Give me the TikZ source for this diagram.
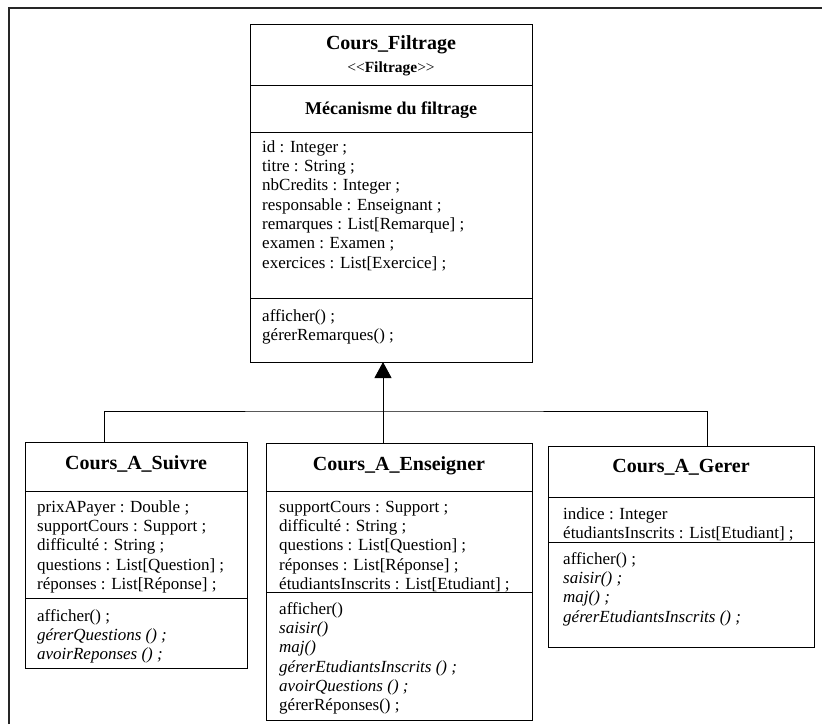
\documentclass[tikz,border=0pt]{standalone}
\usepackage{fontspec}
\setmainfont{Liberation Serif}
\usetikzlibrary{arrows.meta}

\begin{document}
\begin{tikzpicture}[x=1pt, y=-1pt]
	\tikzstyle{classbox} = [
		rectangle, draw=black, line width=0.9pt, outer sep=0pt, inner sep=0pt, below right
	]
	\tikzstyle{classname} = [
		anchor=base, inner sep=0pt, font=\fontsize{20}{24}\selectfont\bfseries
	]
	\tikzstyle{members} = [
		anchor=north west, inner sep=0pt, align=left, font=\fontsize{17}{19.3}\selectfont
	]
	\tikzstyle{sep} = [
		line width=0.9pt
	]
	\tikzstyle{inherit} = [
		line width=0.9pt, -{Triangle[length=16pt, width=17pt]}
	]

	\useasboundingbox (0,0) rectangle (822,724);
	% Rahmen
	\draw[line width=1.6pt, black!85] (9,724) -- (9,8) -- (822,8);

	% Cours_Filtrage
	\node (Filtrage) [classbox, minimum width=282pt, minimum height=338pt] at (250,24) {}
		% Titel
		node (Filtrage_name) [classname] at (391,49) {Cours\_Filtrage}
		node (Filtrage_stereo) [anchor=base, inner sep=0pt, font=\fontsize{15.5}{18}\selectfont] at (391,72) {<\kern0pt<\textbf{Filtrage}>\kern0pt>}
		node (Filtrage_mech) [classname, font=\fontsize{18}{22}\selectfont\bfseries] at (391,114) {Mécanisme du filtrage}
		% Trennlinien
		coordinate [yshift=-61pt]  (Filtrage_sep0) at (Filtrage.north west) % oben
		coordinate [yshift=-108pt] (Filtrage_sep1) at (Filtrage.north west) % mitte
		coordinate [yshift=-274pt] (Filtrage_sep2) at (Filtrage.north west) % unten
	;
	\node (Filtrage_attr) [members] at (262,138.5) {\strut id : Integer ;\\ titre : String ;\\ nbCredits : Integer ;\\ responsable : Enseignant ;\\ remarques : List[Remarque] ;\\ examen : Examen ;\\ exercices : List[Exercice] ;};
	\node (Filtrage_ops) [members] at (262,307.5) {\strut afficher() ;\\ gérerRemarques() ;};
	\draw[sep] (Filtrage_sep0) -- (Filtrage_sep0 -| Filtrage.east);
	\draw[sep] (Filtrage_sep1) -- (Filtrage_sep1 -| Filtrage.east);
	\draw[sep] (Filtrage_sep2) -- (Filtrage_sep2 -| Filtrage.east);

	% Cours_A_Suivre
	\node (Suivre) [classbox, minimum width=222pt, minimum height=226pt] at (25,442) {}
		node (Suivre_name) [classname] at (136,469) {Cours\_A\_Suivre}
		coordinate [yshift=-49pt]  (Suivre_sep0) at (Suivre.north west)
		coordinate [yshift=-156pt] (Suivre_sep1) at (Suivre.north west)
		coordinate [xshift=79pt]   (Suivre_top)  at (Suivre.north west) % Anschluss
	;
	\node (Suivre_attr) [members] at (37,498.5) {\strut prixAPayer : Double ;\\ supportCours : Support ;\\ difficulté : String ;\\ questions : List[Question] ;\\ réponses : List[Réponse] ;};
	\node (Suivre_ops) [members] at (37,607.5) {\strut afficher() ;\\ \textit{gérerQuestions () ;}\\ \textit{avoirReponses () ;}};
	\draw[sep] (Suivre_sep0) -- (Suivre_sep0 -| Suivre.east);
	\draw[sep] (Suivre_sep1) -- (Suivre_sep1 -| Suivre.east);

	% Cours_A_Enseigner
	\node (Enseigner) [classbox, minimum width=266pt, minimum height=277pt] at (266,443) {}
		node (Enseigner_name) [classname] at (399,470) {Cours\_A\_Enseigner}
		coordinate [yshift=-48pt]  (Enseigner_sep0) at (Enseigner.north west)
		coordinate [yshift=-149pt] (Enseigner_sep1) at (Enseigner.north west)
		coordinate [xshift=117pt]  (Enseigner_top)  at (Enseigner.north west) % Anschluss
	;
	\node (Enseigner_attr) [members] at (279,498.5) {\strut supportCours : Support ;\\ difficulté : String ;\\ questions : List[Question] ;\\ réponses : List[Réponse] ;\\ étudiantsInscrits : List[Etudiant] ;};
	\node (Enseigner_ops) [members] at (279,600.5) {\strut afficher()\\ \textit{saisir()}\\ \textit{maj()}\\ \textit{gérerEtudiantsInscrits () ;}\\ \textit{avoirQuestions () ;}\\ gérerRéponses() ;};
	\draw[sep] (Enseigner_sep0) -- (Enseigner_sep0 -| Enseigner.east);
	\draw[sep] (Enseigner_sep1) -- (Enseigner_sep1 -| Enseigner.east);

	% Cours_A_Gerer
	\node (Gerer) [classbox, minimum width=266pt, minimum height=201pt] at (548,446) {}
		node (Gerer_name) [classname] at (681,472) {Cours\_A\_Gerer}
		coordinate [yshift=-51pt]  (Gerer_sep0) at (Gerer.north west)
		coordinate [yshift=-96pt]  (Gerer_sep1) at (Gerer.north west)
		coordinate [xshift=159pt]  (Gerer_top)  at (Gerer.north west) % Anschluss
	;
	\node (Gerer_attr) [members] at (563,505.5) {\strut indice : Integer\\ étudiantsInscrits : List[Etudiant] ;};
	\node (Gerer_ops) [members] at (563,550.5) {\strut afficher() ;\\ \textit{saisir() ;}\\ \textit{maj() ;}\\ \textit{gérerEtudiantsInscrits () ;}};
	\draw[sep] (Gerer_sep0) -- (Gerer_sep0 -| Gerer.east);
	\draw[sep] (Gerer_sep1) -- (Gerer_sep1 -| Gerer.east);

	% Vererbung
	\coordinate (hub) at (383,411);
	\draw[inherit] (Enseigner_top) -- (Enseigner_top |- Filtrage.south);
	\draw[sep] (Suivre_top) |- (hub) -| (Gerer_top);
\end{tikzpicture}
\end{document}
